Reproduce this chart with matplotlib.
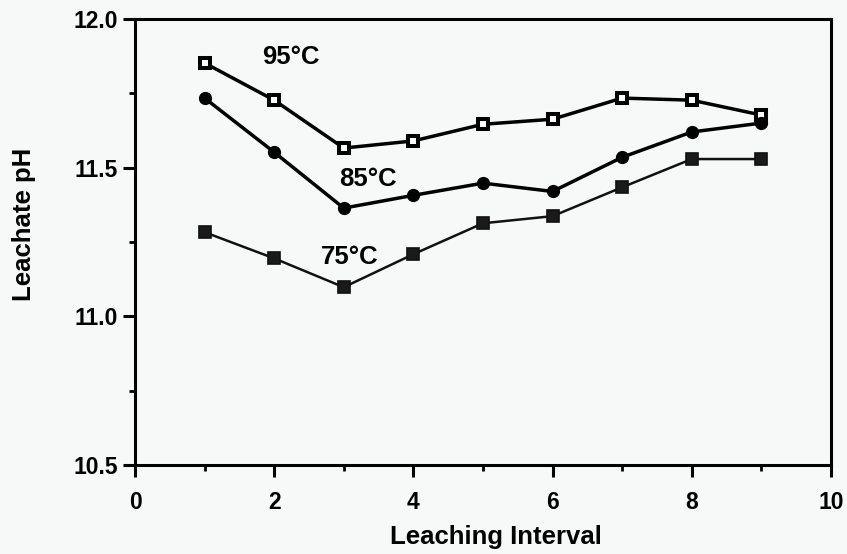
import matplotlib
matplotlib.use("Agg")
import matplotlib.pyplot as plt
from matplotlib.ticker import MultipleLocator, FormatStrFormatter

plt.rcParams['font.family'] = ['Liberation Sans', 'DejaVu Sans']
plt.rcParams['font.weight'] = 'bold'
plt.rcParams['axes.labelweight'] = 'bold'

interval = [1, 2, 3, 4, 5, 6, 7, 8, 9]
ph_95 = [11.852, 11.727, 11.566, 11.590, 11.646, 11.663, 11.734, 11.727, 11.677]
ph_85 = [11.734, 11.552, 11.364, 11.407, 11.448, 11.420, 11.535, 11.620, 11.650]
ph_75 = [11.283, 11.195, 11.098, 11.209, 11.313, 11.337, 11.434, 11.529, 11.529]

bg = '#f7f8f8'
fig = plt.figure(figsize=(8.47, 5.54), dpi=100, facecolor=bg)
ax = fig.add_axes([0.1594, 0.1606, 0.8216, 0.8051], facecolor=bg)

ax.plot(interval, ph_95, color='black', lw=2.5, marker='s', ms=6.5,
        mfc='white', mec='black', mew=2.9, zorder=3)
ax.plot(interval, ph_85, color='black', lw=2.5, marker='o', ms=8.5,
        mfc='black', mec='black', zorder=3)
ax.plot(interval, ph_75, color='#111111', lw=1.8, marker='s', ms=8,
        mfc='#1a1a1a', mec='#111111', mew=1.2, zorder=3)

ax.text(2.24, 11.872, '95°C', fontsize=18.5, ha='center', va='center')
ax.text(3.34, 11.461, '85°C', fontsize=18.5, ha='center', va='center')
ax.text(3.09, 11.199, '75°C', fontsize=18.5, ha='center', va='center')

ax.set_xlim(0, 10)
ax.set_ylim(10.5, 12.0)
ax.xaxis.set_major_locator(MultipleLocator(2))
ax.xaxis.set_minor_locator(MultipleLocator(1))
ax.yaxis.set_major_locator(MultipleLocator(0.5))
ax.yaxis.set_minor_locator(MultipleLocator(0.25))
ax.yaxis.set_major_formatter(FormatStrFormatter('%.1f'))

for s in ax.spines.values():
    s.set_linewidth(2.2)
ax.tick_params(which='major', direction='out', length=8.5, width=2.2,
               labelsize=16.5)
ax.tick_params(axis='x', which='major', pad=10)
ax.tick_params(axis='y', which='major', pad=4)
ax.tick_params(which='minor', direction='out', length=4.5, width=2)

ax.set_xlabel('Leaching Interval', fontsize=18.5, va='center')
ax.set_ylabel('Leachate pH', fontsize=18.5, va='center')
ax.xaxis.set_label_coords(0.519, -0.161)
ax.yaxis.set_label_coords(-0.159, 0.54)

fig.savefig('out.png', dpi=100, facecolor=bg)
